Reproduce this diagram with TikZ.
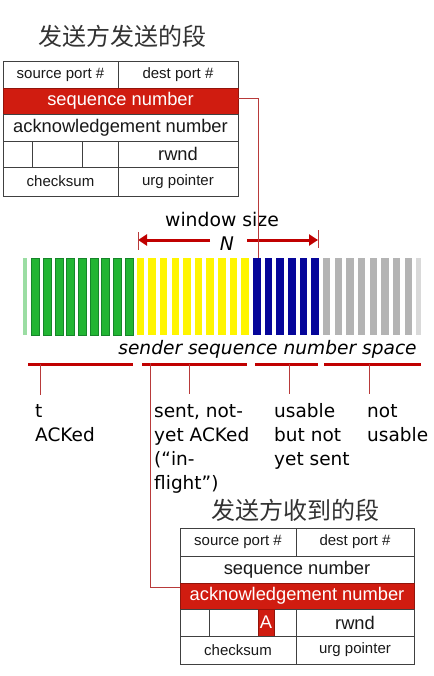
\documentclass[tikz,border=0pt]{standalone}
\usepackage{fontspec}
\setmainfont{Liberation Sans}
\newfontfamily\cjk{Noto Sans CJK SC}
\newfontfamily\verd{DejaVu Sans}
\usetikzlibrary{arrows.meta}
\definecolor{boxred}{HTML}{D01C10}
\definecolor{linered}{HTML}{C00000}
\definecolor{thinred}{HTML}{B83A3A}
\definecolor{barg}{HTML}{22B533}
\definecolor{bargd}{HTML}{16852A}
\definecolor{bary}{HTML}{FFF500}
\definecolor{barb}{HTML}{06069A}
\definecolor{barc}{HTML}{B4B4B4}
\newcommand\myfs[1]{\fontsize{#1}{#1}\selectfont}
\begin{document}
\begin{tikzpicture}[x=1pt,y=-1pt,
  cell/.style={draw=black!75, line width=0.8pt, inner sep=0pt, text=black!90},
  redcell/.style={cell, fill=boxred, draw=boxred!70!black, text=white},
  small/.style={font=\myfs{15}},
  big/.style={font=\myfs{18.3}},
  title/.style={font=\cjk\myfs{24}, text=black!80, inner sep=0pt},
  lbl/.style={font=\verd\fontsize{18.5}{24}\selectfont, align=left, anchor=base west, inner sep=0pt, text=black},
  seg/.style={linered, line width=3pt},
  tick/.style={thinred, line width=0.8pt},
  link/.style={thinred, line width=0.9pt},
  warrow/.style={linered, line width=3pt, -{Triangle[length=9pt,width=11pt]}}
]
\useasboundingbox[fill=white] (0,0) rectangle (433,676);

% ---- top title and segment
\node[title] (ttitle) at (122,36) {发送方发送的段};
\node[cell,small,minimum width=115pt,minimum height=27pt] (tsrc) at (60.5,74.5) {source port \#};
\node[cell,small,minimum width=120pt,minimum height=27pt] (tdst) at (178,74.5) {dest port \#};
\node[redcell,big,minimum width=235pt,minimum height=26pt] (tseq) at (120.5,101) {sequence number};
\node[cell,big,minimum width=235pt,minimum height=27pt] (tack) at (120.5,127.5) {acknowledgement number};
\node[cell,minimum width=29pt,minimum height=26pt] (tc1) at (17.5,154) {};
\node[cell,minimum width=50pt,minimum height=26pt] (tc2) at (57,154) {};
\node[cell,minimum width=36pt,minimum height=26pt] (tc3) at (100,154) {};
\node[cell,big,minimum width=120pt,minimum height=26pt] (trw) at (178,154) {rwnd};
\node[cell,small,minimum width=115pt,minimum height=29pt] (tck) at (60.5,181.5) {checksum};
\node[cell,small,minimum width=120pt,minimum height=29pt] (turg) at (178,181.5) {urg pointer};

% ---- window size
\node[font=\verd\myfs{18.8}, inner sep=0pt, anchor=base] (wsz) at (222,226) {window size};
\node[font=\verd\itshape\myfs{18.8}, inner sep=0pt, anchor=base] (wn) at (227,250) {N};
\coordinate (wl) at (138,240);
\coordinate (wr) at (318,240);
\draw[warrow] (210,240) -- (wl);
\draw[warrow] (247,240) -- (wr);
\draw[tick] (138,232) -- (138,250);
\draw[tick] (318,230) -- (318,248);

% ---- bars
\fill[barg,opacity=0.45] (22.5,258) rectangle ++(4,77);
\foreach \i in {1,...,9}
  \filldraw[fill=barg,draw=bargd,line width=0.5pt] ({20.05+11.65*\i},258) rectangle ++(8,77);
\foreach \i in {10,...,19}
  \fill[bary] ({20.05+11.65*\i},258) rectangle ++(7.5,77);
\foreach \i in {20,...,25}
  \fill[barb] ({20.05+11.65*\i},258) rectangle ++(7.5,77);
\foreach \i in {26,...,33}
  \fill[barc] ({20.05+11.65*\i},258) rectangle ++(7.5,77);
\fill[barc,opacity=0.5] (415.5,258) rectangle ++(5,77);

\node[font=\verd\itshape\myfs{18.6}, inner sep=0pt, anchor=base] (space) at (267.5,354) {sender sequence number space};

% ---- range lines and ticks
\draw[seg] (28,364) -- (133,364);
\draw[seg] (142,364) -- (247,364);
\draw[seg] (255,364) -- (318,364);
\draw[seg] (324,364) -- (421,364);
\draw[tick] (40,364) -- (40,395);
\draw[tick] (189,364) -- (189,394);
\draw[tick] (289,364) -- (289,394);
\draw[tick] (369,364) -- (369,394);

% base anchor = baseline of the last line
\node[lbl] (l1) at (35,441) {t\\ACKed};
\node[lbl] (l2) at (154,489) {sent, not-\\yet ACKed\\(“in-\\flight”)};
\node[lbl] (l3) at (274,465) {usable\\but not\\yet sent};
\node[lbl] (l4) at (367,441) {not\\usable};

% ---- bottom title and segment
\node[title] (btitle) at (295,510) {发送方收到的段};
\node[cell,small,minimum width=116pt,minimum height=28pt] (bsrc) at (238,542) {source port \#};
\node[cell,small,minimum width=118pt,minimum height=28pt] (bdst) at (355,542) {dest port \#};
\node[cell,big,minimum width=234pt,minimum height=27pt] (bseq) at (297,569.5) {sequence number};
\node[redcell,big,minimum width=234pt,minimum height=26pt] (back) at (297,596) {acknowledgement number};
\node[cell,minimum width=29pt,minimum height=27pt] (bc1) at (194.5,622.5) {};
\node[cell,minimum width=49pt,minimum height=27pt] (bc2) at (233.5,622.5) {};
\node[cell,minimum width=38pt,minimum height=27pt] (bc3) at (277,622.5) {};
\node[redcell,big,minimum width=16pt,minimum height=27pt] (bA) at (266,622.5) {A};
\node[cell,big,minimum width=118pt,minimum height=27pt] (brw) at (355,622.5) {rwnd};
\node[cell,small,minimum width=116pt,minimum height=28pt] (bck) at (238,650) {checksum};
\node[cell,small,minimum width=118pt,minimum height=28pt] (burg) at (355,650) {urg pointer};

% ---- connectors
\coordinate (bartop) at (258,258);
\draw[link] ([yshift=3pt]tseq.east) -| (bartop);
\coordinate (segB) at (150,363);
\draw[link] (segB) |- ([yshift=9pt]back.west);
\end{tikzpicture}
\end{document}
